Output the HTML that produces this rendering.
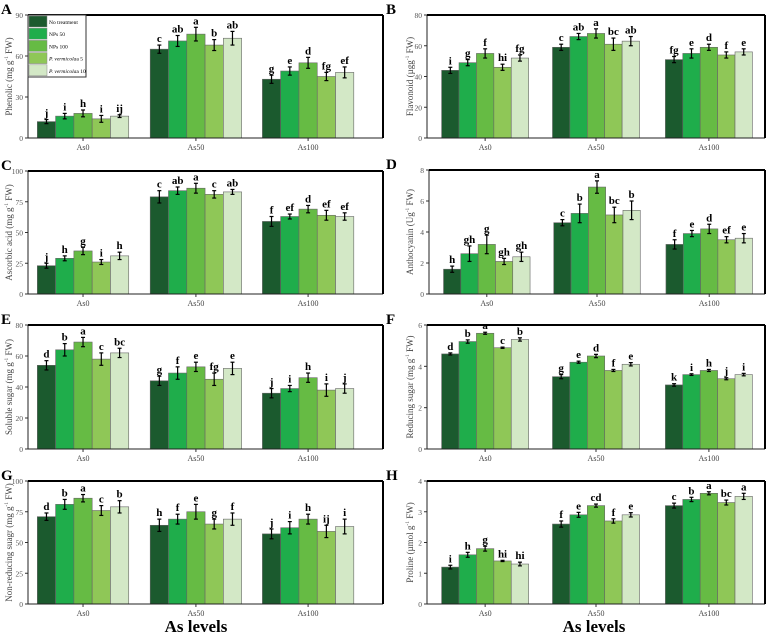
<!DOCTYPE html>
<html><head><meta charset="utf-8"><style>
body{margin:0;background:#fff}
svg{display:block}
text{font-family:"Liberation Serif",serif}
</style></head><body>
<svg id="chart" width="767" height="635" viewBox="0 0 767 635" xmlns="http://www.w3.org/2000/svg"></svg>
<script>
const categories = ["As0","As50","As100"];
const treatments = ["No treatment","NPs 50","NPs 100","P. vermicola 5","P. vermicola 10"];
const colors = ["#1b5a2e","#1fad4b","#66bb44","#8fc757","#d3e8c6"];

const phenolicVals = [[12,16,18,14,16],[65,71,76,68,73],[43,49,55,45,48]];
const phenolicErr = [[1.5,2,2.5,2.5,1],[3,4,5,4,5],[3,3,4,3,4]];
const phenolicLetters = [["j","i","h","i","ij"],["c","ab","a","b","ab"],["g","e","d","fg","ef"]];

const flavonoidVals = [[44,49,55,46,52],[59,66,68,61,63],[51,55,59,54,56]];
const flavonoidErr = [[2,2,3,2,2],[2,2,3,4,3],[2,3,2,2,2]];
const flavonoidLetters = [["i","g","f","hi","fg"],["c","ab","a","bc","ab"],["fg","e","d","f","e"]];

const ascorbicVals = [[23,29,35,26,31],[79,84,86,81,83],[59,63,69,64,63]];
const ascorbicErr = [[2,2,3,2,3],[5,3,4,3,2],[4,2,3,4,3]];
const ascorbicLetters = [["j","h","g","i","h"],["c","ab","a","c","ab"],["f","ef","d","ef","ef"]];

const anthoVals = [[1.6,2.6,3.2,2.1,2.4],[4.6,5.2,6.9,5.1,5.4],[3.2,3.9,4.2,3.5,3.6]];
const anthoErr = [[0.2,0.5,0.6,0.2,0.3],[0.2,0.6,0.4,0.5,0.6],[0.3,0.2,0.3,0.2,0.3]];
const anthoLetters = [["h","gh","g","gh","gh"],["c","b","a","bc","b"],["f","e","d","ef","e"]];

const solubleVals = [[54,64,69,58,62],[44,49,53,45,52],[36,39,46,38,39]];
const solubleErr = [[3,4,3,4,3],[3,4,3,4,4],[3,2,3,4,3]];
const solubleLetters = [["d","b","a","c","bc"],["g","f","e","fg","e"],["j","i","h","i","j"]];

const reducingVals = [[4.6,5.2,5.6,4.9,5.3],[3.5,4.2,4.5,3.8,4.1],[3.1,3.6,3.8,3.4,3.6]];
const reducingErr = [[0.05,0.08,0.05,0.03,0.08],[0.1,0.05,0.08,0.05,0.08],[0.06,0.04,0.05,0.05,0.06]];
const reducingLetters = [["d","b","a","c","b"],["g","e","d","f","e"],["k","i","h","j","i"]];

const nonredVals = [[71,81,86,76,79],[64,69,75,65,69],[57,62,69,59,63]];
const nonredErr = [[3,4,3,4,5],[5,4,6,4,5],[4,5,4,5,6]];
const nonredLetters = [["d","b","a","c","b"],["h","f","e","g","f"],["j","i","h","ij","i"]];

const prolineVals = [[1.2,1.6,1.8,1.4,1.3],[2.6,2.9,3.2,2.7,2.9],[3.2,3.4,3.6,3.3,3.5]];
const prolineErr = [[0.06,0.08,0.08,0.02,0.06],[0.1,0.08,0.05,0.07,0.07],[0.08,0.07,0.05,0.08,0.1]];
const prolineLetters = [["i","h","g","hi","hi"],["f","e","cd","f","e"],["c","b","a","bc","a"]];

const ticksA=[0,30,60,90], ticksB=[0,20,40,60,80], ticksC=[0,25,50,75,100], ticksD=[0,2,4,6,8];
const ticksE=[0,20,40,60,80], ticksF=[0,2,4,6], ticksG=[0,25,50,75,100], ticksH=[0,1,2,3,4];

const NS="http://www.w3.org/2000/svg";
const svg=document.getElementById("chart");
function el(tag,attrs,parent,txt){const e=document.createElementNS(NS,tag);for(const k in attrs)e.setAttribute(k,attrs[k]);if(txt!==undefined)e.textContent=txt;(parent||svg).appendChild(e);return e;}

const panels=[
 {id:"A",box:[28,15,383,138],col:0,ticks:ticksA,vals:phenolicVals,err:phenolicErr,let:phenolicLetters,title:["Phenolic (mg g","-1"," FW)"],tx:9,legend:true},
 {id:"B",box:[427,15,765,138],col:1,ticks:ticksB,vals:flavonoidVals,err:flavonoidErr,let:flavonoidLetters,title:["Flavonoid (µgg","-1"," FW)"],tx:410},
 {id:"C",box:[28,171,383,294],col:0,ticks:ticksC,vals:ascorbicVals,err:ascorbicErr,let:ascorbicLetters,title:["Ascorbic acid (mg g","-1"," FW)"],tx:9},
 {id:"D",box:[429,170,765,294],col:1,ticks:ticksD,vals:anthoVals,err:anthoErr,let:anthoLetters,title:["Anthocyanin (Ug","-1"," FW)"],tx:410},
 {id:"E",box:[28,325,383,449],col:0,ticks:ticksE,vals:solubleVals,err:solubleErr,let:solubleLetters,title:["Soluble sugar (mg g","-1"," FW)"],tx:9},
 {id:"F",box:[427,325,765,449],col:1,ticks:ticksF,vals:reducingVals,err:reducingErr,let:reducingLetters,title:["Reducing sugar (mg g","-1"," FW)"],tx:410},
 {id:"G",box:[28,481,383,604],col:0,ticks:ticksG,vals:nonredVals,err:nonredErr,let:nonredLetters,title:["Non-reducing suagr (mg g","-1"," FW)"],tx:9},
 {id:"H",box:[427,481,765,604],col:1,ticks:ticksH,vals:prolineVals,err:prolineErr,let:prolineLetters,title:["Proline (µmol g","-1"," FW)"],tx:410}
];
const centersFrac=[[0.155,0.473,0.789],[0.172,0.50,0.834]];

panels.forEach(p=>{
 const [l,t,r,b]=p.box, w=r-l, h=b-t;
 const g=el("g",{});
 
 
 const maxV=p.ticks[p.ticks.length-1];
 const y=v=>b-v/maxV*h;
 const bw=w*0.0515;
 const lab=el("text",{x:p.col?386:1,y:t-1,"font-family":"Liberation Sans, sans-serif","font-weight":"bold","font-size":15},g,p.id);
 
 
 p.ticks.forEach(tv=>{
  el("line",{x1:l-3,x2:l,y1:y(tv),y2:y(tv),stroke:"#333","stroke-width":1},g);
  const tl=el("text",{x:l-5,y:y(tv)+3,"text-anchor":"end","font-size":7.5,fill:"#555"},g,String(tv));
  
  
 });
 const cy=(t+b)/2;
 const tt=el("text",{x:0,y:0,transform:`translate(${p.tx+3},${cy}) rotate(-90)`,"text-anchor":"middle","font-size":9,fill:"#444"},g);
 
 
 el("tspan",{},tt,p.title[0]);
 el("tspan",{"font-size":5.5,dy:-4},tt,p.title[1]);
 el("tspan",{dy:4},tt,p.title[2]);
 categories.forEach((c,ci)=>{
  const cx=l+w*centersFrac[p.col][ci];
  el("line",{x1:cx,x2:cx,y1:b,y2:b+3,stroke:"#333"},g);
  const xl=el("text",{x:cx,y:b+12,"text-anchor":"middle","font-size":8,fill:"#444"},g,c);
  
  
  p.vals[ci].forEach((v,k)=>{
   const x0=cx+(k-2.5)*bw;
   const rect=el("rect",{x:x0,y:y(v),width:bw,height:b-y(v),fill:colors[k],stroke:"#666","stroke-width":0.6},g);
   
   
   const e=p.err[ci][k], mx=x0+bw/2, y1=y(v+e), y2=y(v-e);
   el("line",{x1:mx,x2:mx,y1:y1,y2:y2,stroke:"#000","stroke-width":1.2},g);
   el("line",{x1:mx-2,x2:mx+2,y1:y1,y2:y1,stroke:"#000","stroke-width":1.2},g);
   el("line",{x1:mx-2,x2:mx+2,y1:y2,y2:y2,stroke:"#000","stroke-width":1.2},g);
   const lt=el("text",{x:mx,y:y1-3,"text-anchor":"middle","font-size":11,"font-weight":"bold"},g,p.let[ci][k]);
   
   
  });
 });
 el("line",{x1:l,x2:r,y1:b,y2:b,stroke:"#222","stroke-width":1},g);
 el("line",{x1:l,x2:l,y1:t,y2:b,stroke:"#222","stroke-width":1},g);
 el("line",{x1:l,x2:r,y1:t,y2:t,stroke:"#000","stroke-width":2},g);
 el("line",{x1:r,x2:r,y1:t,y2:b,stroke:"#000","stroke-width":2},g);
 if(p.legend){
  const lg=el("g",{},g);
  
  
  el("rect",{x:l,y:t,width:58,height:62,fill:"#fff",stroke:"#333","stroke-width":1},lg);
  treatments.forEach((tn,k)=>{
   const ey=t+1+k*12.2;
   const sw=el("rect",{x:l+1,y:ey,width:18,height:11,fill:colors[k],stroke:"#888","stroke-width":0.5},lg);
   
   
   const tx=el("text",{x:l+21,y:ey+8,"font-size":5.5},lg);
   
   
   if(k>=3){el("tspan",{"font-style":"italic"},tx,"P. vermicola");el("tspan",{},tx,tn.slice(11));}
   else tx.textContent=tn;
  });
 }
});
const x1=el("text",{x:196,y:632,"text-anchor":"middle","font-size":17,"font-weight":"bold"},svg,"As levels");


const x2=el("text",{x:594,y:632,"text-anchor":"middle","font-size":17,"font-weight":"bold"},svg,"As levels");


</script>
</body></html>
